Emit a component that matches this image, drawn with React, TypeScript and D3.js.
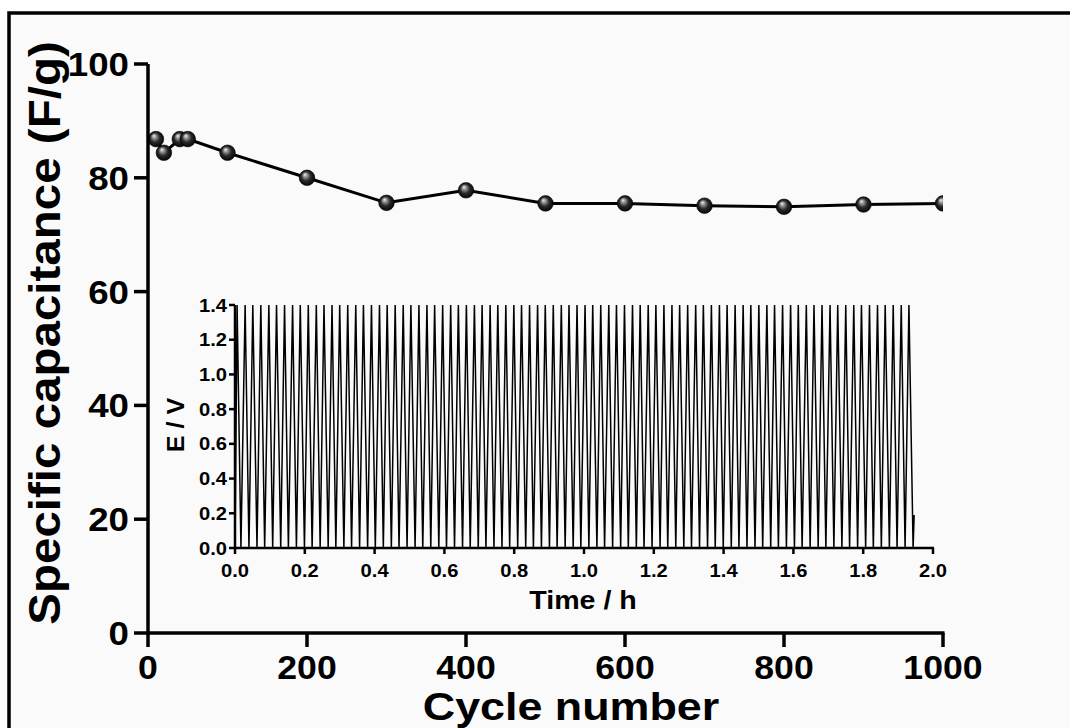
import React from 'react';
import * as d3 from 'd3';

// Cycling stability: specific capacitance vs. cycle number
const cycles = [10, 20, 40, 50, 100, 200, 300, 400, 500, 600, 700, 800, 900, 1000];
const capacitance = [86.8, 84.4, 86.8, 86.8, 84.4, 80.0, 75.6, 77.8, 75.5, 75.5, 75.1, 74.9, 75.3, 75.5];
const capTicks = [0, 20, 40, 60, 80, 100];
const cycleTicks = [0, 200, 400, 600, 800, 1000];

// Inset: galvanostatic charge/discharge potential vs. time (h)
const peakTimes = [
  0.006, 0.029, 0.051, 0.074, 0.097, 0.119, 0.142, 0.165, 0.187, 0.210,
  0.233, 0.255, 0.278, 0.300, 0.323, 0.346, 0.368, 0.391, 0.414, 0.436,
  0.459, 0.482, 0.504, 0.527, 0.550, 0.572, 0.595, 0.618, 0.640, 0.663,
  0.686, 0.708, 0.731, 0.753, 0.776, 0.799, 0.821, 0.844, 0.867, 0.889,
  0.912, 0.935, 0.957, 0.980, 1.003, 1.025, 1.048, 1.071, 1.093, 1.116,
  1.139, 1.161, 1.184, 1.206, 1.229, 1.252, 1.274, 1.297, 1.320, 1.342,
  1.365, 1.388, 1.410, 1.433, 1.456, 1.478, 1.501, 1.524, 1.546, 1.569,
  1.592, 1.614, 1.637, 1.659, 1.682, 1.705, 1.727, 1.750, 1.773, 1.795,
  1.818, 1.841, 1.863, 1.886, 1.909, 1.931,
];
const troughTimes = [
  0.017, 0.040, 0.063, 0.085, 0.108, 0.131, 0.153, 0.176, 0.199, 0.221,
  0.244, 0.267, 0.289, 0.312, 0.334, 0.357, 0.380, 0.402, 0.425, 0.448,
  0.470, 0.493, 0.516, 0.538, 0.561, 0.584, 0.606, 0.629, 0.652, 0.674,
  0.697, 0.719, 0.742, 0.765, 0.787, 0.810, 0.833, 0.855, 0.878, 0.901,
  0.923, 0.946, 0.969, 0.991, 1.014, 1.037, 1.059, 1.082, 1.105, 1.127,
  1.150, 1.172, 1.195, 1.218, 1.240, 1.263, 1.286, 1.308, 1.331, 1.354,
  1.376, 1.399, 1.422, 1.444, 1.467, 1.490, 1.512, 1.535, 1.557, 1.580,
  1.603, 1.625, 1.648, 1.671, 1.693, 1.716, 1.739, 1.761, 1.784, 1.807,
  1.829, 1.852, 1.875, 1.897, 1.920, 1.943,
];
const upperPotential = 1.4;
const lowerPotential = 0.0;
const startPoint: [number, number] = [0.0, 0.0];
const finalPoint: [number, number] = [1.946, 0.19];
const timeTicks = [0.0, 0.2, 0.4, 0.6, 0.8, 1.0, 1.2, 1.4, 1.6, 1.8, 2.0];
const potentialTicks = [0.0, 0.2, 0.4, 0.6, 0.8, 1.0, 1.2, 1.4];

const FONT = '"Liberation Sans", Arial, Helvetica, sans-serif';

type LabelProps = {
  x: number;
  y: number;
  size: number;
  anchor?: 'start' | 'middle' | 'end';
  sx?: number;
  rotate?: number;
  children: React.ReactNode;
};

function Label({ x, y, size, anchor = 'middle', sx = 1, rotate = 0, children }: LabelProps) {
  return (
    <g transform={`translate(${x},${y}) rotate(${rotate}) scale(${sx},1)`}>
      <text
        x={0}
        y={0}
        textAnchor={anchor}
        fontFamily={FONT}
        fontWeight="bold"
        fontSize={size}
        fill="#000"
      >
        {children}
      </text>
    </g>
  );
}

export default function App() {
  const W = 1070;
  const H = 728;

  // main axes
  const x = d3.scaleLinear().domain([0, 1000]).range([148, 943]);
  const y = d3.scaleLinear().domain([0, 100]).range([633, 64]);

  // inset axes
  const xi = d3.scaleLinear().domain([0, 2.0]).range([235, 933]);
  const yi = d3.scaleLinear().domain([0, 1.4]).range([548, 305]);

  const capPoints: [number, number][] = cycles.map((c, i) => [c, capacitance[i]]);
  const capLine = d3
    .line<[number, number]>()
    .x((d) => x(d[0]))
    .y((d) => y(d[1]));

  const wave: [number, number][] = [startPoint];
  peakTimes.forEach((t, i) => {
    wave.push([t, upperPotential]);
    wave.push([troughTimes[i], lowerPotential]);
  });
  wave.push(finalPoint);
  const waveLine = d3
    .line<[number, number]>()
    .x((d) => xi(d[0]))
    .y((d) => yi(d[1]));

  const [x0, x1] = x.range();
  const [y0, y1] = y.range();

  return (
    <svg
      width={W}
      height={H}
      viewBox={`0 0 ${W} ${H}`}
      style={{ position: 'absolute', left: 0, top: 0, background: '#fff' }}
    >
      <defs>
        <radialGradient id="ball" cx="50%" cy="50%" r="55%" fx="36%" fy="28%">
          <stop offset="0%" stopColor="#f4f4f4" />
          <stop offset="22%" stopColor="#9a9a9a" />
          <stop offset="55%" stopColor="#2a2a2a" />
          <stop offset="100%" stopColor="#000" />
        </radialGradient>
        <clipPath id="plotClip">
          <rect x={x0} y={0} width={x1 - x0} height={y0} />
        </clipPath>
      </defs>

      {/* frame */}
      <rect x={9} y={13} width={1200} height={900} fill="#fafafa" stroke="#000" strokeWidth={3.5} />

      {/* main data */}
      <g clipPath="url(#plotClip)">
        <path d={capLine(capPoints) || ''} fill="none" stroke="#000" strokeWidth={3} />
        {capPoints.map((d, i) => (
          <circle key={i} cx={x(d[0])} cy={y(d[1])} r={7.8} fill="url(#ball)" stroke="#000" strokeWidth={0.6} />
        ))}
      </g>

      {/* main axes */}
      <line x1={x0} x2={x0} y1={y1} y2={y0 + 1.5} stroke="#000" strokeWidth={3.5} />
      <line x1={x0 - 1.5} x2={x1 + 1.5} y1={y0} y2={y0} stroke="#000" strokeWidth={3.5} />
      {capTicks.map((t) => (
        <g key={`yt${t}`}>
          <line x1={x0 - 14} x2={x0} y1={y(t)} y2={y(t)} stroke="#000" strokeWidth={3.5} />
          <Label x={x0 - 19} y={y(t) + 12} size={34} anchor="end" sx={1.08}>
            {t}
          </Label>
        </g>
      ))}
      {cycleTicks.map((t) => (
        <g key={`xt${t}`}>
          <line x1={x(t)} x2={x(t)} y1={y0} y2={y0 + 14} stroke="#000" strokeWidth={3.5} />
          <Label x={x(t)} y={y0 + 46} size={33} sx={1.08}>
            {t}
          </Label>
        </g>
      ))}
      <Label x={571} y={720} size={38} sx={1.18}>
        Cycle number
      </Label>
      <Label x={60} y={333} size={44} rotate={-90} sx={1.08}>
        Specific capacitance (F/g)
      </Label>

      {/* inset */}
      <path d={waveLine(wave) || ''} fill="none" stroke="#000" strokeWidth={1.5} strokeLinejoin="miter" />
      <line x1={xi(0)} x2={xi(0)} y1={yi(1.4)} y2={yi(0) + 1} stroke="#000" strokeWidth={2.5} />
      <line x1={xi(0) - 1} x2={xi(2.0) + 1} y1={yi(0)} y2={yi(0)} stroke="#000" strokeWidth={2.5} />
      {potentialTicks.map((t) => (
        <g key={`pi${t}`}>
          <line x1={xi(0) - 6} x2={xi(0)} y1={yi(t)} y2={yi(t)} stroke="#000" strokeWidth={2.5} />
          <Label x={xi(0) - 8} y={yi(t) + 6.5} size={18} anchor="end" sx={1.12}>
            {t.toFixed(1)}
          </Label>
        </g>
      ))}
      {timeTicks.map((t) => (
        <g key={`ti${t}`}>
          <line x1={xi(t)} x2={xi(t)} y1={yi(0)} y2={yi(0) + 6} stroke="#000" strokeWidth={2.5} />
          <Label x={xi(t)} y={yi(0) + 29} size={18} sx={1.12}>
            {t.toFixed(1)}
          </Label>
        </g>
      ))}
      <Label x={583} y={609} size={26} sx={1.1}>
        Time / h
      </Label>
      <Label x={184} y={425} size={24} rotate={-90} sx={1.05}>
        E / V
      </Label>
    </svg>
  );
}
